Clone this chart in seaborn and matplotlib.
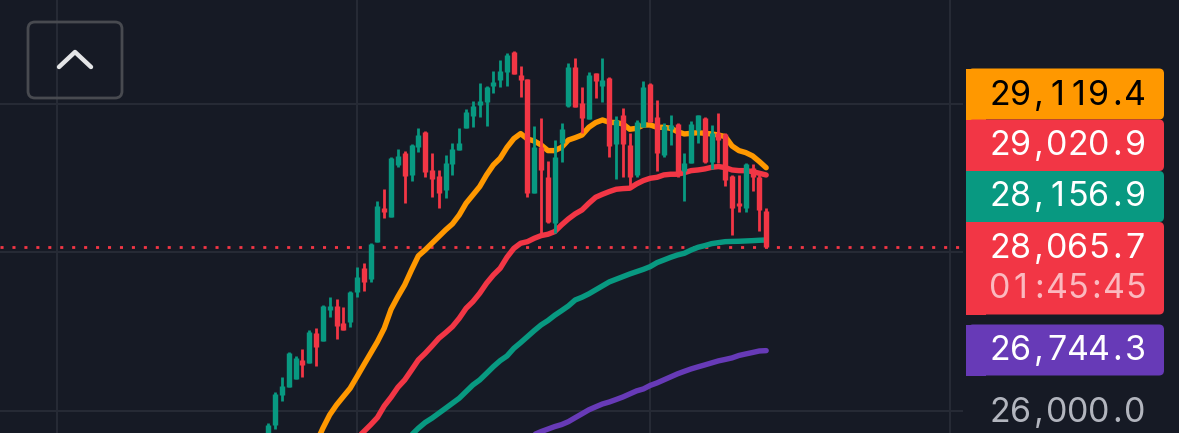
"""
Dark candlestick chart with four moving averages and the price tags on the right.
"""

import matplotlib

matplotlib.use("Agg")

import matplotlib.pyplot as plt
import numpy as np
import pandas as pd
import seaborn as sns
from matplotlib.patches import FancyBboxPatch, Rectangle
from matplotlib.ticker import NullLocator


BG = "#161a25"
GRID = "#262a35"
UP = "#089981"
DOWN = "#f23645"
ORANGE = "#ff9800"
PURPLE = "#673ab7"

opens = [25616, 25837, 26199, 26301, 26390, 26629, 26595, 26961, 26869, 27255,
         27310, 27095, 27108, 27489, 27789, 27647, 28127, 28575, 28456, 29157,
         29325, 29022, 29406, 29612, 29089, 29008, 28821, 29171, 29361, 29658,
         29829, 29981, 30028, 30248, 30332, 30450, 30735, 30403, 30342, 28776,
         29406, 29000, 28386, 29461, 29967, 30521, 30014, 29783, 30426, 30248,
         30365, 29443, 29843, 29429, 29022, 29672, 30271, 29810, 29293, 29645,
         29718, 29080, 29189, 29635, 29797, 29203, 29589, 29580, 29008, 28650,
         28575, 29112, 29000, 28544]
highs = [25857, 26240, 26414, 26732, 26682, 26761, 27003, 27024, 27318, 27417,
         27391, 27289, 27502, 27802, 27854, 28122, 28677, 28829, 29270, 29370,
         29347, 29443, 29667, 29626, 29325, 29089, 29293, 29461, 29667, 29921,
         30042, 30295, 30248, 30464, 30616, 30712, 30750, 30536, 30351, 29695,
         29806, 29216, 29497, 29737, 30578, 30650, 30239, 30440, 30435, 30640,
         30379, 29829, 29944, 29589, 29773, 30323, 30286, 30052, 29727, 29847,
         29737, 29325, 29764, 29847, 29820, 29704, 29866, 29598, 29022, 29022,
         29189, 29171, 29022, 28575]
lows = [25556, 25784, 26130, 26301, 26390, 26414, 26595, 26554, 26869, 27171,
        26885, 27003, 27037, 27417, 27502, 27617, 28127, 28443, 28456, 29125,
        28642, 28946, 29338, 28990, 28722, 28575, 28709, 29026, 29361, 29658,
        29672, 29810, 29695, 30145, 30229, 30248, 30412, 30089, 28731, 28776,
        28245, 28377, 28254, 29203, 29958, 29949, 29598, 29783, 30075, 30019,
        29270, 28963, 28990, 28874, 28990, 29672, 29750, 29080, 29270, 29429,
        28990, 28677, 29180, 29461, 29189, 29098, 29189, 28874, 28223, 28531,
        28531, 28799, 28280, 28065.7]
closes = [25837, 26211, 26309, 26711, 26649, 26567, 26982, 26786, 27310, 27306,
          27053, 27003, 27489, 27673, 27617, 28105, 28606, 28522, 29248, 29280,
          29008, 29429, 29566, 29067, 28963, 28785, 29189, 29370, 29452, 29889,
          29967, 30042, 30230, 30309, 30464, 30688, 30412, 30332, 28785, 29406,
          29089, 28399, 29270, 29645, 30511, 29949, 29797, 30403, 30323, 30332,
          29415, 29773, 29443, 29000, 29750, 30229, 29750, 29315, 29690, 29704,
          29067, 29189, 29718, 29838, 29203, 29589, 29497, 28955, 28575, 28606,
          29171, 29000, 28553, 28065.7]

# moving averages, all ending on the last candle
ma_orange = [25261, 25420, 25616, 25796, 25957, 26077, 26179, 26280, 26422, 26567,
             26711, 26856, 27024, 27263, 27425, 27575, 27767, 27949, 28027, 28114,
             28201, 28289, 28368, 28487, 28642, 28753, 28865, 29022, 29157, 29248,
             29397, 29516, 29585, 29511, 29483, 29429, 29352, 29352, 29397, 29497,
             29529, 29566, 29672, 29737, 29773, 29741, 29737, 29718, 29645, 29658,
             29704, 29704, 29672, 29672, 29658, 29612, 29580, 29589, 29598, 29589,
             29580, 29566, 29543, 29415, 29352, 29325, 29280, 29203, 29119.4]
ma_red = [25496, 25596, 25676, 25756, 25837, 25925, 26065, 26171, 26292, 26382,
          26504, 26629, 26711, 26802, 26898, 26969, 27045, 27150, 27276, 27361,
          27468, 27596, 27702, 27789, 27932, 28047, 28114, 28135, 28179, 28214,
          28232, 28267, 28355, 28434, 28501, 28553, 28642, 28722, 28762, 28798,
          28829, 28838, 28843, 28901, 28946, 28977, 28990, 29022, 29031, 29031,
          29053, 29080, 29089, 29103, 29125, 29135, 29121, 29089, 29080, 29080,
          29067, 29044, 29020.9]
ma_green = [25596, 25656, 25716, 25796, 25865, 25917, 25977, 26037, 26098, 26159,
            26240, 26321, 26382, 26463, 26546, 26620, 26678, 26773, 26844, 26919,
            26995, 27066, 27121, 27188, 27246, 27306, 27382, 27417, 27460, 27511,
            27562, 27613, 27647, 27681, 27715, 27745, 27775, 27810, 27862, 27896,
            27931, 27961, 27983, 28026, 28061, 28083, 28109, 28122, 28135, 28138,
            28140, 28144, 28148, 28153, 28156.9]
ma_purple = [25721, 25756, 25786, 25816, 25840, 25875, 25923, 25970, 26018, 26054,
             26089, 26113, 26143, 26174, 26211, 26248, 26272, 26315, 26346, 26383,
             26420, 26457, 26488, 26518, 26543, 26567, 26592, 26617, 26635, 26654,
             26684, 26703, 26721, 26740, 26744.3]

last_price = 28065.7
price_ticks = [26000, 28000, 30000]
time_ticks = [-31, 13, 56, 100]

tag_labels = ["29,119.4", "29,020.9", "28,156.9", "28,065.7", "26,744.3"]
countdown = "01:45:45"
axis_label = "26,000.0"


def draw_tag(ax, top, bottom, color):
    # right corners are rounded, left side is flat against the pane
    ax.add_patch(FancyBboxPatch((972, top + 4), 188, bottom - top - 8,
                                boxstyle="round,pad=4,rounding_size=5",
                                facecolor=color, edgecolor="none"))
    ax.add_patch(Rectangle((966, top), 20, bottom - top, facecolor=color, edgecolor="none"))


def draw_price_text(ax, baseline, text, color):
    # the tags use wide fixed digits, matplotlib has no tracking so place each glyph
    right = 1145.5
    for char in reversed(text):
        advance = 20.8 if char.isdigit() else 15.6
        ax.text(right - advance / 2, baseline, char, color=color, ha="center", va="baseline", fontsize=24.5)
        right -= advance


def main():
    sns.set_theme(style="dark")
    plt.rcParams["font.family"] = ["Inter", "DejaVu Sans"]

    fig = plt.figure(figsize=(11.79, 4.33), dpi=100, facecolor=BG)
    ax = fig.add_axes([0, 0, 963 / 1179, 1], facecolor=BG)

    x = np.arange(len(closes))
    n = len(closes)

    ax.set_yscale("log")
    ax.set_xlim(-39.34, 101.86)
    ax.set_ylim(25739, 31482)
    ax.set_yticks(price_ticks)
    ax.set_xticks(time_ticks)
    ax.yaxis.set_minor_locator(NullLocator())
    ax.xaxis.set_minor_locator(NullLocator())
    ax.tick_params(length=0, labelbottom=False, labelleft=False)
    ax.grid(True, color=GRID, linewidth=1.5)
    ax.set_axisbelow(True)
    sns.despine(ax=ax, left=True, bottom=True)

    ax.axhline(last_price, color=DOWN, linewidth=2.0, linestyle=(0, (1.1, 3.2)), zorder=1.5)

    for values, color in [(ma_purple, PURPLE), (ma_green, UP), (ma_red, DOWN), (ma_orange, ORANGE)]:
        frame = pd.DataFrame({"i": x[n - len(values):], "price": values})
        sns.lineplot(data=frame, x="i", y="price", color=color, linewidth=3.9, ax=ax,
                     legend=False, errorbar=None, solid_capstyle="round")
    ax.set_xlabel("")
    ax.set_ylabel("")

    candles = pd.DataFrame({"open": opens, "high": highs, "low": lows, "close": closes})
    candle_colors = [UP if c >= o else DOWN for o, c in zip(opens, closes)]
    ax.vlines(x, candles["low"], candles["high"], colors=candle_colors, linewidth=2.0, zorder=3)
    ax.vlines(x, candles[["open", "close"]].min(axis=1), candles[["open", "close"]].max(axis=1),
              colors=candle_colors, linewidth=3.9, zorder=3)

    # overlay in pixel units for the button and the price tags
    ui = fig.add_axes([0, 0, 1, 1])
    ui.set_xlim(0, 1179)
    ui.set_ylim(433, 0)
    ui.axis("off")

    ui.add_patch(FancyBboxPatch((33, 27), 84, 66, boxstyle="round,pad=5,rounding_size=7",
                                facecolor="none", edgecolor="#484a50", linewidth=2.0))
    ui.plot([59, 75, 91], [67, 52, 67], color="#e4e5e7", linewidth=3.2, solid_capstyle="round")

    draw_tag(ui, 68.5, 119.5, ORANGE)
    draw_tag(ui, 119.5, 171, DOWN)
    draw_tag(ui, 171, 222, UP)
    draw_tag(ui, 222, 314.5, DOWN)
    draw_tag(ui, 324.5, 375.5, PURPLE)

    draw_price_text(ui, 105, tag_labels[0], "black")
    draw_price_text(ui, 155, tag_labels[1], "white")
    draw_price_text(ui, 206, tag_labels[2], "white")
    draw_price_text(ui, 257.5, tag_labels[3], "white")
    draw_price_text(ui, 298, countdown, "#fbb9bf")
    draw_price_text(ui, 360, tag_labels[4], "white")
    draw_price_text(ui, 421.5, axis_label, "#b2b5be")

    fig.savefig("out.png", dpi=100, facecolor=BG)
    plt.close(fig)


if __name__ == "__main__":
    main()
